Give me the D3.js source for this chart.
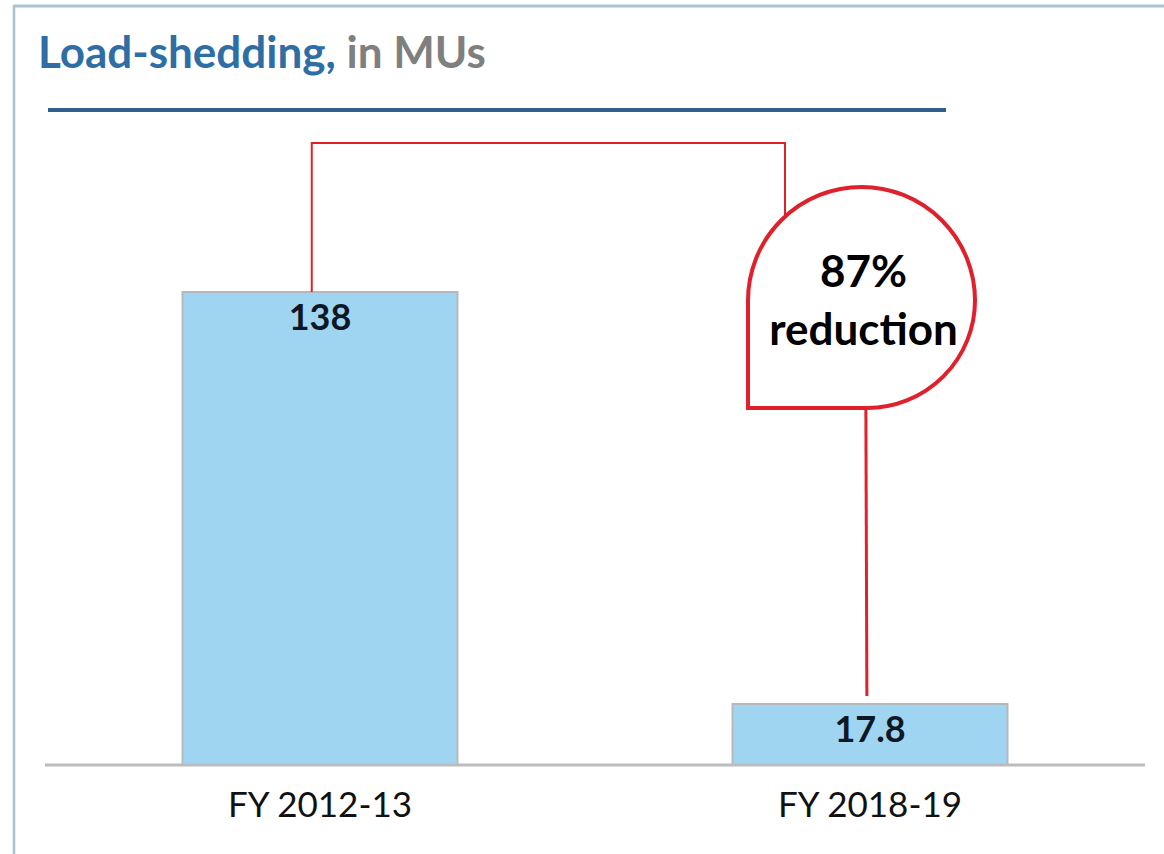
<!DOCTYPE html>
<html>
<head>
<meta charset="utf-8">
<script src="https://cdn.jsdelivr.net/npm/d3@7"></script>
<style>
  body { margin: 0; background: #fff; }
  svg { display: block; font-family: Lato, "Open Sans", sans-serif; }
</style>
</head>
<body>
<svg id="chart"></svg>
<script>
// chart data
const categories = ["FY 2012-13", "FY 2018-19"];
const values = [138, 17.8];
const valueLabels = ["138", "17.8"];
const reductionLabel = ["87%", "reduction"];

const WIDTH = 1164;
const HEIGHT = 854;

const svg = d3.select("#chart").attr("width", WIDTH).attr("height", HEIGHT);

// frame round the slide
svg.append("line")
  .attr("x1", 14).attr("x2", WIDTH).attr("y1", 6).attr("y2", 6)
  .attr("stroke", "#a9c3cf").attr("stroke-width", 3);
svg.append("line")
  .attr("x1", 14).attr("x2", 14).attr("y1", 5).attr("y2", HEIGHT)
  .attr("stroke", "#a9c3cf").attr("stroke-width", 2.5);

// title
const title = svg.append("text")
  .attr("x", 38).attr("y", 68)
  .attr("font-size", 44).attr("font-weight", "bold");
title.append("tspan").attr("fill", "#2f6ea5").text("Load-shedding,");
title.append("tspan").attr("fill", "#7f7f7f").text(" in MUs");

svg.append("line")
  .attr("x1", 48).attr("x2", 946).attr("y1", 110).attr("y2", 110)
  .attr("stroke", "#2e608c").attr("stroke-width", 4);

// scales
var x = d3.scaleBand()
  .domain(categories)
  .range([45, 1145])
  .paddingInner(0.5)
  .paddingOuter(0.25);

var y = d3.scaleLinear()
  .domain([0, d3.max(values)])
  .range([765, 292]);

const data = categories.map((c, i) => ({ cat: c, value: values[i], label: valueLabels[i] }));

// bars
svg.append("g")
  .selectAll("rect")
  .data(data)
  .enter()
  .append("rect")
  .attr("x", (d) => x(d.cat))
  .attr("y", (d) => y(d.value))
  .attr("width", x.bandwidth())
  .attr("height", (d) => y(0) - y(d.value))
  .attr("fill", "#a0d5f1")
  .attr("stroke", "#b5b9bc")
  .attr("stroke-width", 2);

// axis line
svg.append("line")
  .attr("x1", 45).attr("x2", 1145).attr("y1", y(0)).attr("y2", y(0))
  .attr("stroke", "#bcbcbc").attr("stroke-width", 3);

// value labels inside bars
svg.append("g")
  .selectAll("text")
  .data(data)
  .enter()
  .append("text")
  .attr("x", (d) => x(d.cat) + x.bandwidth() / 2)
  .attr("y", (d) => y(d.value) + 38)
  .attr("text-anchor", "middle")
  .attr("font-size", 36).attr("font-weight", "bold")
  .attr("fill", "#0e1724")
  .text((d) => d.label);

// category labels
svg.append("g")
  .selectAll("text")
  .data(data)
  .enter()
  .append("text")
  .attr("x", (d) => x(d.cat) + x.bandwidth() / 2)
  .attr("y", y(0) + 52)
  .attr("text-anchor", "middle")
  .attr("font-size", 35)
  .attr("fill", "#111")
  .text((d) => d.cat);

// reduction annotation
const RED = "#e0202a";
const leftX = x(categories[0]) + x.bandwidth() * 0.47;
const bracketTop = 143;
const rightX = 785;
const bubbleL = 748, bubbleT = 187, bubbleR = 975, bubbleB = 408;
const r = (bubbleR - bubbleL) / 2;
const cx = bubbleL + r;
const stemX = x(categories[1]) + x.bandwidth() * 0.485;

svg.append("path")
  .attr("d", `M${leftX},${y(values[0])}V${bracketTop}H${rightX}V${bubbleT + 28}`)
  .attr("fill", "none").attr("stroke", RED).attr("stroke-width", 2);

svg.append("path")
  .attr("d", `M${stemX},${bubbleB}L${stemX + 1},${y(values[1]) - 8}`)
  .attr("fill", "none").attr("stroke", RED).attr("stroke-width", 3);

// teardrop bubble: round on three corners, square at bottom-left
const cy = bubbleT + r;
const bubble = d3.path();
bubble.moveTo(bubbleL, bubbleB);
bubble.lineTo(bubbleL, cy);
bubble.arc(cx, cy, r, Math.PI, Math.PI * 1.5);
bubble.arc(cx, cy, r, Math.PI * 1.5, Math.PI * 2);
bubble.arcTo(bubbleR, bubbleB, cx, bubbleB, r * 0.95);
bubble.lineTo(bubbleL, bubbleB);
bubble.closePath();
svg.append("path")
  .attr("d", bubble.toString())
  .attr("fill", "#fff").attr("stroke", RED).attr("stroke-width", 4);

svg.append("g")
  .selectAll("text")
  .data(reductionLabel)
  .enter()
  .append("text")
  .attr("x", cx + 2)
  .attr("y", (d, i) => 287 + i * 58)
  .attr("text-anchor", "middle")
  .attr("font-size", 44).attr("font-weight", "bold")
  .attr("fill", "#000")
  .text((d) => d);
</script>
</body>
</html>
